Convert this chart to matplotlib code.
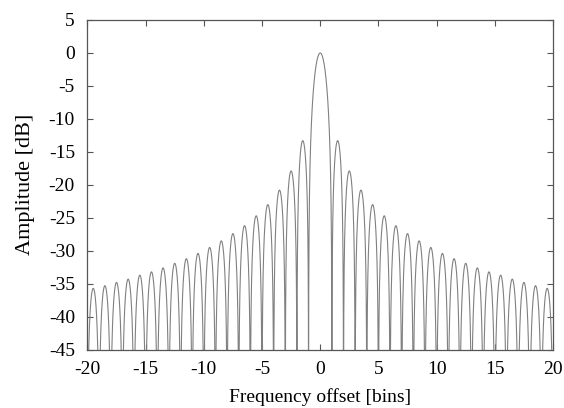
import numpy as np
import matplotlib.pyplot as plt

plt.rcParams['font.family'] = ['Liberation Serif', 'DejaVu Serif']
plt.rcParams['axes.unicode_minus'] = False

# sidelobe peak levels [dB] for the lobes centred at 1.5, 2.5, ... 19.5 bins
# (spectrum is symmetric, so the same levels are mirrored to negative offsets)
lobe_centres = [1.5, 2.5, 3.5, 4.5, 5.5, 6.5, 7.5, 8.5, 9.5, 10.5,
                11.5, 12.5, 13.5, 14.5, 15.5, 16.5, 17.5, 18.5, 19.5]
lobe_peaks_db = [-13.3, -17.9, -20.8, -23.0, -24.7, -26.2, -27.4, -28.5, -29.5, -30.4,
                 -31.2, -31.9, -32.6, -33.2, -33.7, -34.3, -34.8, -35.3, -35.7]
main_peak_db = 0.0

xticks = [-20, -15, -10, -5, 0, 5, 10, 15, 20]
yticks = [5, 0, -5, -10, -15, -20, -25, -30, -35, -40, -45]


def lobe_curve(lo, hi, peak_db, n=200):
    # one lobe between two nulls, arch shape of |sin| scaled to the peak level
    x = np.linspace(lo, hi, n)
    arch = np.abs(np.sin(np.pi * (x - lo) / (hi - lo)))
    with np.errstate(divide='ignore'):
        y = peak_db + 20 * np.log10(arch)
    return x, y


xs = []
ys = []
# negative side lobes, outermost first
for c, p in zip(lobe_centres[::-1], lobe_peaks_db[::-1]):
    x, y = lobe_curve(-c - 0.5, -c + 0.5, p)
    xs.append(x)
    ys.append(y)
# main lobe
xm = np.linspace(-1, 1, 400)
with np.errstate(divide='ignore'):
    ym = main_peak_db + 20 * np.log10(np.abs(np.sinc(xm)))
xs.append(xm)
ys.append(ym)
for c, p in zip(lobe_centres, lobe_peaks_db):
    x, y = lobe_curve(c - 0.5, c + 0.5, p)
    xs.append(x)
    ys.append(y)

freq = np.concatenate(xs)
amp = np.concatenate(ys)
amp = np.clip(amp, -60, None)

fig = plt.figure(figsize=(5.64, 4.08), dpi=100)
ax = fig.add_axes([0.155, 0.143, 0.8255, 0.808])
ax.plot(freq, amp, color='#808080', lw=0.8)

ax.set_xlim(-20, 20)
ax.set_ylim(-45, 5)
ax.set_xticks(xticks)
ax.set_yticks(yticks)
ax.tick_params(direction='in', length=4, width=0.8, color='#555555',
               top=True, right=True, labelsize=14)
ax.tick_params(axis='x', pad=8)
ax.tick_params(axis='y', pad=9)
for s in ax.spines.values():
    s.set_color('#555555')
    s.set_linewidth(0.9)

ax.set_xlabel('Frequency offset [bins]', fontsize=14, labelpad=7.5)
ax.set_ylabel('Amplitude [dB]', fontsize=16, labelpad=10)

fig.savefig('out.png', dpi=100)
